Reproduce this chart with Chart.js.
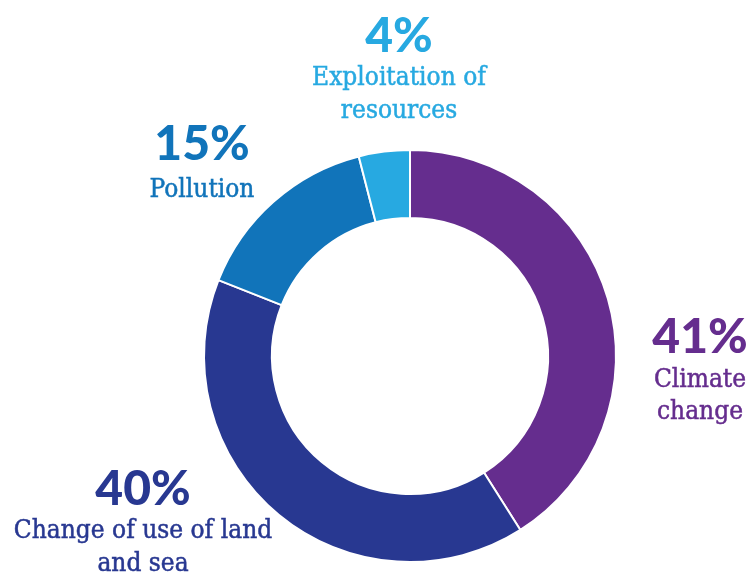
<!DOCTYPE html>
<html>
<head>
<meta charset="utf-8">
<script src="https://cdn.jsdelivr.net/npm/chart.js@4"></script>
<style>
  html, body { margin: 0; padding: 0; background: #ffffff; }
  #wrap { width: 750px; height: 573px; position: relative; }
</style>
</head>
<body>
<div id="wrap"><canvas id="chart" width="750" height="573"></canvas></div>
<script>
// Drivers of biodiversity loss (share, %)
const categories = ['Climate change', 'Change of use of land and sea', 'Pollution', 'Exploitation of resources'];
const shares = [41, 40, 15, 4];
const colors = ['#652D8E', '#283891', '#1174BA', '#27A9E1'];
// Caption lines under each percentage
const captionLines = [
  ['Climate', 'change'],
  ['Change of use of land', 'and sea'],
  ['Pollution'],
  ['Exploitation of', 'resources']
];

// Where each label block sits: centre x, baseline of the percentage, caption offsets
const labelAnchors = [
  { x: 700, y: 353, first: 34, gap: 32 },
  { x: 143, y: 505, first: 33, gap: 33 },
  { x: 202, y: 160, first: 37, gap: 33 },
  { x: 399, y: 52, first: 33, gap: 33 }
];

const PCT_FONT = '900 48px Lato';
const CAPTION_FONT = '26px "DejaVu Serif Condensed", "DejaVu Serif", serif';

const labelPlugin = {
  id: 'sliceLabels',
  afterDraw(chart) {
    const ctx = chart.ctx;
    ctx.save();
    ctx.textAlign = 'center';
    ctx.textBaseline = 'alphabetic';
    shares.forEach((v, i) => {
      const a = labelAnchors[i];
      ctx.fillStyle = colors[i];
      ctx.strokeStyle = colors[i];
      ctx.font = PCT_FONT;
      ctx.fillText(v + '%', a.x, a.y);
      ctx.font = CAPTION_FONT;
      ctx.lineWidth = 0.5;
      captionLines[i].forEach((line, j) => {
        const y = a.y + a.first + j * a.gap;
        ctx.fillText(line, a.x, y);
        ctx.strokeText(line, a.x, y);
      });
    });
    ctx.restore();
  }
};

new Chart(document.getElementById('chart'), {
  type: 'doughnut',
  data: {
    labels: categories,
    datasets: [{
      data: shares,
      backgroundColor: colors,
      borderColor: '#ffffff',
      borderWidth: 2
    }]
  },
  options: {
    responsive: false,
    animation: false,
    cutout: '67%',
    rotation: 0,
    layout: { padding: { top: 149, bottom: 10, left: 203, right: 133 } },
    plugins: {
      legend: { display: false },
      tooltip: { enabled: false }
    }
  },
  plugins: [labelPlugin]
});
</script>
</body>
</html>
